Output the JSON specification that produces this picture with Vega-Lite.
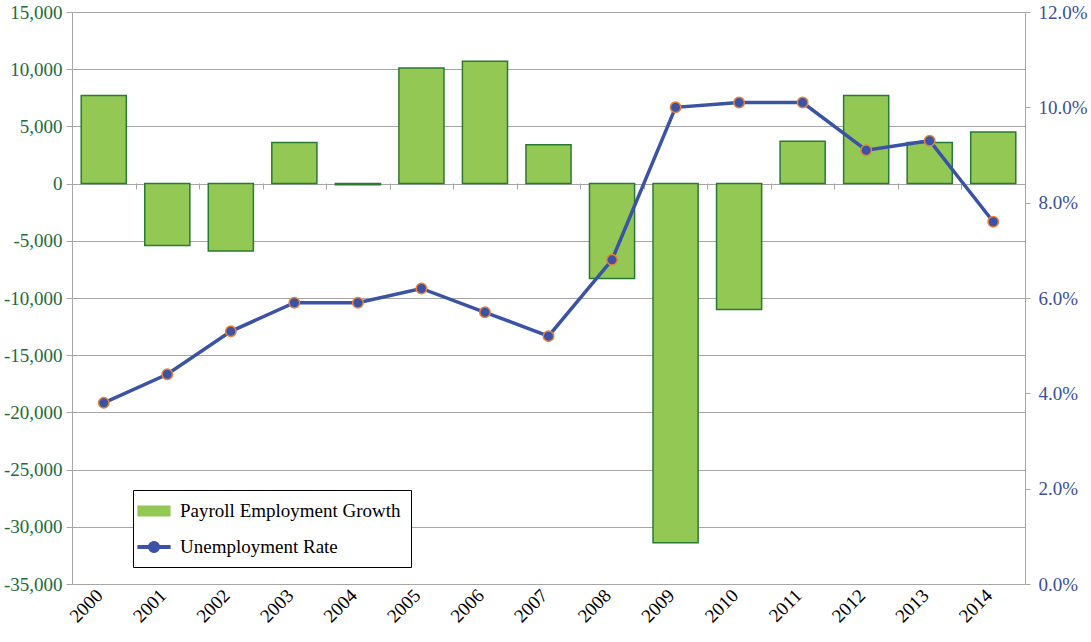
{
  "$schema": "https://vega.github.io/schema/vega-lite/v6.json",
  "width": 953,
  "height": 572,
  "autosize": {"type": "none"},
  "padding": {"left": 72, "top": 12, "right": 66, "bottom": 58},
  "background": "white",
  "config": {
    "view": {"stroke": null},
    "font": "'Liberation Serif', 'Times New Roman', 'DejaVu Serif', serif",
    "axis": {"labelFont": "'Liberation Serif', 'Times New Roman', 'DejaVu Serif', serif", "labelFontSize": 19},
    "legend": {"labelFont": "'Liberation Serif', 'Times New Roman', 'DejaVu Serif', serif", "labelFontSize": 19}
  },
  "data": {
    "values": [
      {"year": "2000", "payroll": 7700, "rate": 3.8},
      {"year": "2001", "payroll": -5400, "rate": 4.4},
      {"year": "2002", "payroll": -5900, "rate": 5.3},
      {"year": "2003", "payroll": 3600, "rate": 5.9},
      {"year": "2004", "payroll": -100, "rate": 5.9},
      {"year": "2005", "payroll": 10100, "rate": 6.2},
      {"year": "2006", "payroll": 10700, "rate": 5.7},
      {"year": "2007", "payroll": 3400, "rate": 5.2},
      {"year": "2008", "payroll": -8300, "rate": 6.8},
      {"year": "2009", "payroll": -31400, "rate": 10.0},
      {"year": "2010", "payroll": -11000, "rate": 10.1},
      {"year": "2011", "payroll": 3700, "rate": 10.1},
      {"year": "2012", "payroll": 7700, "rate": 9.1},
      {"year": "2013", "payroll": 3600, "rate": 9.3},
      {"year": "2014", "payroll": 4500, "rate": 7.6}
    ]
  },
  "layer": [
    {
      "mark": {"type": "bar", "width": {"band": 0.71}, "stroke": "#2a7a35", "strokeWidth": 1.5},
      "encoding": {
        "x": {
          "field": "year", "type": "ordinal",
          "scale": {"paddingInner": 0, "paddingOuter": 0},
          "axis": {
            "title": null, "orient": "bottom", "domain": false, "ticks": false, "grid": false,
            "labelAngle": -45, "labelAlign": "right", "labelBaseline": "middle",
            "labelFont": "'Liberation Serif', 'Times New Roman', 'DejaVu Serif', serif", "labelFontSize": 19, "labelColor": "#000000",
            "labelPadding": 8, "labelOffset": -4
          }
        },
        "y": {
          "field": "payroll", "type": "quantitative",
          "scale": {"domain": [-35000, 15000], "nice": false, "zero": false},
          "axis": {
            "title": null, "orient": "left",
            "values": [-35000, -30000, -25000, -20000, -15000, -10000, -5000, 0, 5000, 10000, 15000],
            "labelExpr": "replace(format(datum.value, ','), '\u2212', '-')",
            "grid": true, "gridColor": "#a6a6a6", "gridWidth": 1,
            "domainColor": "#a6a6a6", "tickColor": "#a6a6a6", "tickSize": 6,
            "labelFont": "'Liberation Serif', 'Times New Roman', 'DejaVu Serif', serif", "labelFontSize": 19, "labelColor": "#1e6b3c",
            "labelPadding": 4
          }
        },
        "color": {
          "datum": "Payroll Employment Growth", "type": "nominal",
          "scale": {"domain": ["Payroll Employment Growth", "Unemployment Rate"], "range": ["#92c853", "#3b53a4"]},
          "legend": {
            "title": null, "orient": "none", "legendX": 61, "legendY": 478,
            "strokeColor": "#000000", "fillColor": "white",
            "padding": 10, "rowPadding": 15, "symbolSize": 400, "labelOffset": 15, "labelLimit": 500,
            "labelFont": "'Liberation Serif', 'Times New Roman', 'DejaVu Serif', serif", "labelFontSize": 19, "labelColor": "#000000"
          }
        }
      }
    },
    {
      "encoding": {
        "x": {
          "field": "year", "type": "ordinal",
          "axis": {
            "title": null, "orient": "bottom", "offset": -401, "labels": false, "domain": false,
            "grid": false, "ticks": true, "tickBand": "extent", "tickColor": "#a6a6a6", "tickSize": 6
          }
        },
        "y": {
          "field": "rate", "type": "quantitative",
          "scale": {"domain": [0, 12], "nice": false, "zero": true},
          "axis": {
            "title": null, "orient": "right", "grid": false,
            "values": [0, 2, 4, 6, 8, 10, 12],
            "labelExpr": "format(datum.value, '.1f') + '%'",
            "domainColor": "#a6a6a6", "tickColor": "#a6a6a6", "tickSize": 5,
            "labelFont": "'Liberation Serif', 'Times New Roman', 'DejaVu Serif', serif", "labelFontSize": 19, "labelColor": "#3b4f9a",
            "labelPadding": 8
          }
        },
        "color": {
          "datum": "Unemployment Rate", "type": "nominal",
          "legend": {
            "title": null, "orient": "none", "legendX": 61, "legendY": 478,
            "strokeColor": "#000000", "fillColor": "white",
            "padding": 10, "rowPadding": 15, "symbolSize": 400, "labelOffset": 15, "labelLimit": 500,
            "labelFont": "'Liberation Serif', 'Times New Roman', 'DejaVu Serif', serif", "labelFontSize": 19, "labelColor": "#000000",
            "encode": {
              "symbols": {
                "update": {
                  "shape": {"signal": "datum.value === 'Unemployment Rate' ? 'M-1.6,-0.15H1.6V0.15H-1.6Z M0.55,0A0.55,0.55,0,1,1,-0.55,0A0.55,0.55,0,1,1,0.55,0Z' : 'M-1.6,-0.5H1.6V0.5H-1.6Z'"},
                  "fill": {"signal": "datum.value === 'Unemployment Rate' ? '#3b53a4' : '#92c853'"},
                  "stroke": {"signal": "datum.value === 'Unemployment Rate' ? '#3b53a4' : '#2a7a35'"},
                  "strokeWidth": {"value": 1.2},
                  "opacity": {"value": 1}
                }
              }
            }
          }
        }
      },
      "layer": [
        {"mark": {"type": "line", "strokeWidth": 3.5}},
        {"mark": {"type": "point", "filled": true, "size": 110, "stroke": "#e8823a", "strokeWidth": 1.5, "opacity": 1}}
      ]
    }
  ],
  "resolve": {"scale": {"y": "independent"}, "axis": {"x": "independent"}}
}
